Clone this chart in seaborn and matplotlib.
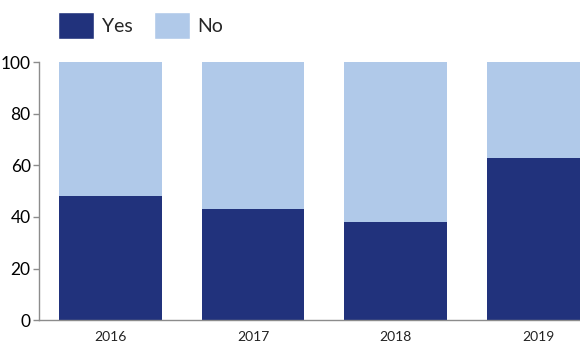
import matplotlib
matplotlib.use("Agg")
import matplotlib.pyplot as plt
import seaborn as sns
from matplotlib.patches import Patch

# Values (percent)
years = ["2016", "2017", "2018", "2019"]
yes_share = [48, 43, 38, 63]
no_share = [52, 57, 62, 37]

DARK = "#21327c"
LIGHT = "#b0c9e9"
AXIS_GREY = "#8c8c8c"


def main():
    sns.set_style("white")
    plt.rcParams["font.family"] = ["Liberation Sans Narrow", "Lato", "DejaVu Sans"]

    fig = plt.figure(figsize=(5.8, 3.58), dpi=100)
    ax = fig.add_axes([0.0672, 0.1053, 0.9845, 0.7215])

    sns.barplot(ax=ax, x=years, y=yes_share, color=DARK, width=0.72,
                saturation=1, linewidth=0)
    sns.barplot(ax=ax, x=years, y=no_share, bottom=yes_share, color=LIGHT,
                width=0.72, saturation=1, linewidth=0)

    ax.set_xlim(-0.5, 3.5)
    ax.set_ylim(0, 100)
    ax.set_yticks([0, 20, 40, 60, 80, 100])
    ax.set_xlabel("")
    ax.set_ylabel("")

    for side in ["top", "right"]:
        ax.spines[side].set_visible(False)
    for side in ["left", "bottom"]:
        ax.spines[side].set_color(AXIS_GREY)
        ax.spines[side].set_linewidth(1.0)

    ax.tick_params(axis="y", left=True, length=4, width=1, color=AXIS_GREY,
                   pad=2, labelsize=12.5, labelcolor="black")
    ax.tick_params(axis="x", bottom=False, length=0, pad=8, labelsize=10,
                   labelcolor="#222222")

    handles = [Patch(facecolor=DARK, label="Yes"), Patch(facecolor=LIGHT, label="No")]
    fig.legend(handles=handles, loc="upper left", bbox_to_anchor=(0.1, 0.966),
               ncol=2, frameon=False, fontsize=14, handlelength=1.85,
               handleheight=1.75, handletextpad=0.4, columnspacing=1.1,
               borderpad=0, borderaxespad=0)

    fig.savefig("out.png", dpi=100)


if __name__ == "__main__":
    main()
